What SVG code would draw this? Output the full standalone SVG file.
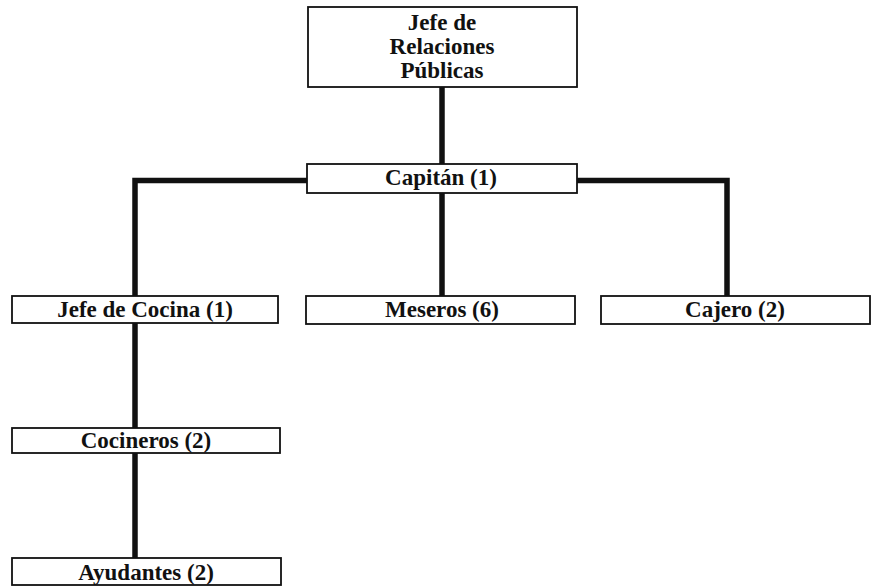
<svg xmlns="http://www.w3.org/2000/svg" width="873" height="586" viewBox="0 0 873 586">
  <style>
    .box { fill: #ffffff; stroke: #111111; stroke-width: 1.8; }
    .lbl { font-family: "Liberation Serif", "Times New Roman", serif; font-weight: bold; font-size: 23px; fill: #111111; text-anchor: middle; }
    .link { fill: none; stroke: #111111; stroke-width: 5.5; stroke-linecap: butt; stroke-linejoin: miter; }
  </style>
  <rect width="873" height="586" fill="#ffffff"/>

  <!-- connectors -->
  <g id="connectors">
    <path class="link" d="M442 87 V164"/>
    <path class="link" d="M307 180.5 H135 V296"/>
    <path class="link" d="M577 180.5 H727 V296"/>
    <path class="link" d="M442 193 V296"/>
    <path class="link" d="M135 323 V428"/>
    <path class="link" d="M135 453 V558"/>
  </g>

  <g id="jefe-rp">
    <rect class="box" x="308" y="7" width="269" height="80"/>
    <text class="lbl" x="442" y="30">Jefe de</text>
    <text class="lbl" x="442" y="54">Relaciones</text>
    <text class="lbl" x="442" y="78">Públicas</text>
  </g>

  <g id="capitan">
    <rect class="box" x="307" y="164" width="270" height="29"/>
    <text class="lbl" x="441" y="185">Capitán (1)</text>
  </g>

  <g id="jefe-cocina">
    <rect class="box" x="12" y="296" width="266" height="27"/>
    <text class="lbl" x="145" y="317">Jefe de Cocina (1)</text>
  </g>

  <g id="meseros">
    <rect class="box" x="306" y="296" width="269" height="28"/>
    <text class="lbl" x="442" y="317">Meseros (6)</text>
  </g>

  <g id="cajero">
    <rect class="box" x="601" y="296" width="269" height="28"/>
    <text class="lbl" x="735" y="317">Cajero (2)</text>
  </g>

  <g id="cocineros">
    <rect class="box" x="12" y="428" width="268" height="25"/>
    <text class="lbl" x="146" y="448">Cocineros (2)</text>
  </g>

  <g id="ayudantes">
    <rect class="box" x="12" y="558" width="269" height="27"/>
    <text class="lbl" x="146" y="580">Ayudantes (2)</text>
  </g>
</svg>
